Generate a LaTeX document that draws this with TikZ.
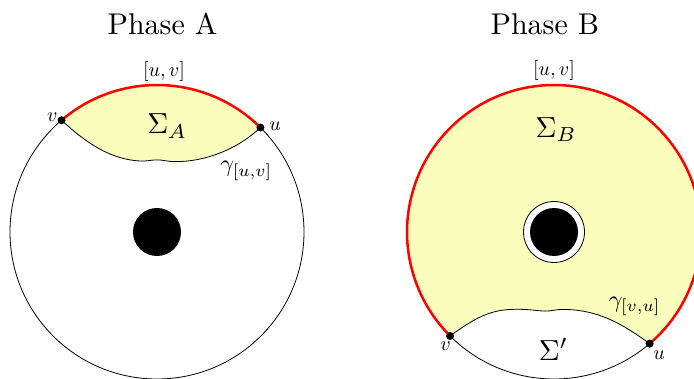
\documentclass[tikz,border=0pt]{standalone}
\definecolor{paleyellow}{RGB}{250,252,188}
\begin{document}
\begin{tikzpicture}[x=1pt,y=1pt,
  lbl/.style={inner sep=0pt, anchor=base west, scale=2, transform shape},
  ttl/.style={inner sep=0pt, anchor=base west, scale=3, transform shape},
  big/.style={inner sep=0pt, anchor=base west, scale=2.9, transform shape},
  gam/.style={inner sep=0pt, anchor=base west, scale=2.4, transform shape},
  dotnode/.style={circle, fill=black, inner sep=0pt, minimum size=8pt},
  redarc/.style={draw=red, line width=2.5pt},
  bline/.style={draw=black, line width=0.8pt},
  yfill/.style={fill=paleyellow},
  hole/.style={circle, fill=black, inner sep=0pt, minimum size=48pt},
  ring/.style={circle, draw=black, line width=0.8pt, fill=white, inner sep=0pt, minimum size=61pt}]
\useasboundingbox (0,0) rectangle (694,378);
\clip (0,0) rectangle (694,378);
% ---------- Phase A ----------
\coordinate (cA) at (157,146);
\path (cA) ++(130.5:147) coordinate (vA);
\path (cA) ++(45.3:147) coordinate (uA);
\def\gammaA{(vA) .. controls (85,236) and (110,218.5) .. (140,217)
  .. controls (148,216.6) and (150,218.1) .. (157,218.1)
  .. controls (164,218.1) and (167,216.4) .. (175,216.4)
  .. controls (205,216) and (238,229) .. (uA)}
\fill[yfill] \gammaA
  arc[start angle=45.3, end angle=130.5, radius=147] -- cycle;
\draw[bline] (cA) circle[radius=147];
\draw[redarc] (vA) arc[start angle=130.5, end angle=45.3, radius=147];
\draw[bline] \gammaA;
\node[hole] (holeA) at (cA) {};
\node[dotnode] (dvA) at (vA) {};
\node[dotnode] (duA) at (uA) {};
\node[ttl] (titleA) at (107,343.7) {Phase A};
\node[lbl] (uvA) at (142.7,301.3) {$[u,v]$};
\node[big] (sigA) at (146.7,244) {$\Sigma_A$};
\node[lbl] (lvA) at (46.7,256) {$v$};
\node[lbl] (luA) at (269,247) {$u$};
\node[gam] (gA) at (220,206) {$\gamma_{[u,v]}$};
% ---------- Phase B ----------
\coordinate (cB) at (554,146);
\path (cB) ++(225:147) coordinate (vB);
\path (cB) ++(-49.4:147) coordinate (uB);
\def\gammaB{(vB) .. controls (475,60) and (490,68.5) .. (515,68.7)
  .. controls (531,68.9) and (538,66.9) .. (545,66.9)
  .. controls (552,66.9) and (556,68.6) .. (563,68.6)
  .. controls (600,68.5) and (625,52) .. (uB)}
\fill[yfill] \gammaB
  arc[start angle=-49.4, end angle=225, radius=147] -- cycle;
\draw[redarc] (uB) arc[start angle=-49.4, end angle=225, radius=147];
\draw[bline] (vB) arc[start angle=225, end angle=310.6, radius=147];
\draw[bline] \gammaB;
\node[ring] (ringB) at (cB) {};
\node[hole] (holeB) at (cB) {};
\node[dotnode] (dvB) at (vB) {};
\node[dotnode] (duB) at (uB) {};
\node[ttl] (titleB) at (490,343.7) {Phase B};
\node[lbl] (uvB) at (532.7,302.3) {$[u,v]$};
\node[big] (sigB) at (535,240.5) {$\Sigma_B$};
\node[big] (sigP) at (538.3,18) {$\Sigma'$};
\node[lbl] (lvB) at (440,27.3) {$v$};
\node[lbl] (luB) at (653,18.7) {$u$};
\node[gam] (gB) at (608.3,70.4) {$\gamma_{[v,u]}$};
\end{tikzpicture}
\end{document}
